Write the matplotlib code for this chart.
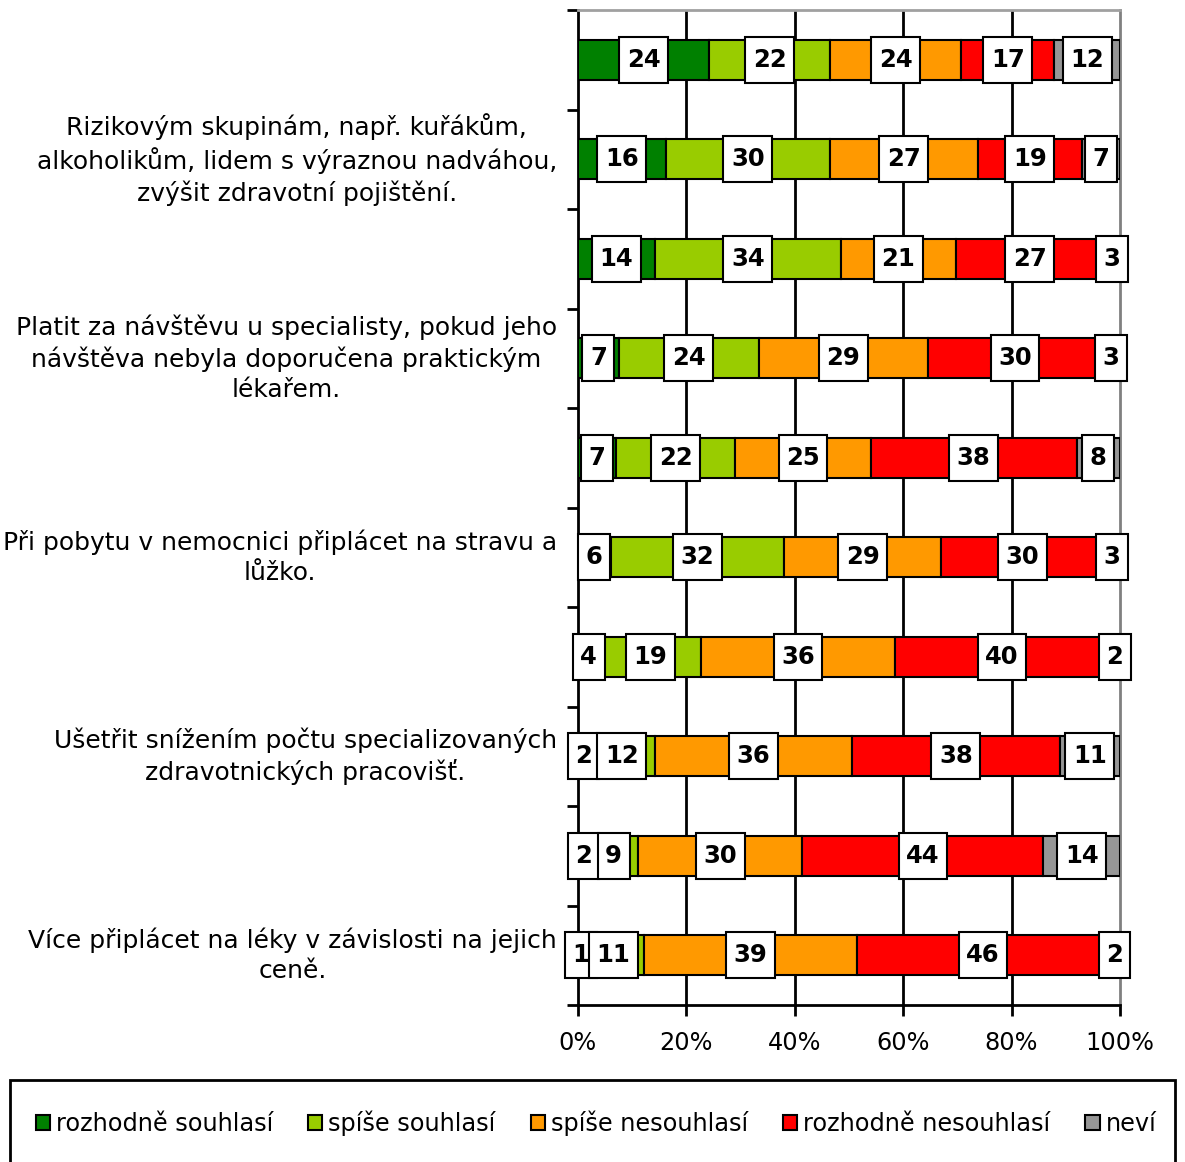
import matplotlib
matplotlib.use("Agg")
import matplotlib.pyplot as plt
import matplotlib.transforms as mtransforms
import numpy as np
from matplotlib.patches import Rectangle, Patch
from matplotlib.path import Path

plt.rcParams['font.family'] = ['DejaVu Sans']

# Statements (only every second one carries a printed label)
categories = [
    "",
    "Rizikovým skupinám, např. kuřákům,\nalkoholikům, lidem s výraznou nadváhou,\nzvýšit zdravotní pojištění.",
    "",
    "Platit za návštěvu u specialisty, pokud jeho\nnávštěva nebyla doporučena praktickým\nlékařem.",
    "",
    "Při pobytu v nemocnici připlácet na stravu a\nlůžko.",
    "",
    "Ušetřit snížením počtu specializovaných\nzdravotnických pracovišť.",
    "",
    "Více připlácet na léky v závislosti na jejich\nceně.",
]

series_names = ["rozhodně souhlasí", "spíše souhlasí", "spíše nesouhlasí",
                "rozhodně nesouhlasí", "neví"]

rozhodne_souhlasi = [24, 16, 14, 7, 7, 6, 4, 2, 2, 1]
spise_souhlasi = [22, 30, 34, 24, 22, 32, 19, 12, 9, 11]
spise_nesouhlasi = [24, 27, 21, 29, 25, 29, 36, 36, 30, 39]
rozhodne_nesouhlasi = [17, 19, 27, 30, 38, 30, 40, 38, 44, 46]
nevi = [12, 7, 3, 3, 8, 3, 2, 11, 14, 2]

colors = ["#008000", "#99CC00", "#FF9900", "#FF0000", "#969696"]

data = np.array([rozhodne_souhlasi, spise_souhlasi, spise_nesouhlasi,
                 rozhodne_nesouhlasi, nevi], dtype=float)
shares = data / data.sum(axis=0) * 100.0


def value_box(x0, y0, width, height, mutation_size):
    """Rectangle with a narrow side padding and a fixed, taller height."""
    padx = 0.31 * mutation_size
    half_h = 0.95 * mutation_size
    cy = y0 + height / 2
    verts = [(x0 - padx, cy - half_h), (x0 + width + padx, cy - half_h),
             (x0 + width + padx, cy + half_h), (x0 - padx, cy + half_h),
             (x0 - padx, cy - half_h)]
    return Path(verts, closed=True)


fig = plt.figure(figsize=(11.85, 11.62), dpi=100)
ax = fig.add_axes([578 / 1185, 1 - 1005 / 1162, (1120 - 578) / 1185, (1005 - 10) / 1162])

FS = 17.3
FS_CAT = 18
FS_VAL = 17.5
y = np.arange(len(categories))
left = np.zeros(len(categories))
for k in range(len(series_names)):
    ax.barh(y, shares[k], left=left, height=0.4, color=colors[k],
            edgecolor="black", linewidth=1.5, zorder=3, label=series_names[k])
    for i in range(len(categories)):
        ax.text(left[i] + shares[k][i] / 2, y[i], f"{int(data[k][i])}",
                ha="center", va="center", fontsize=FS_VAL, fontweight="bold",
                zorder=5,
                bbox=dict(boxstyle=value_box, facecolor="white",
                          edgecolor="black", linewidth=1.5))
    left += shares[k]

ax.set_xlim(0, 100)
ax.set_ylim(len(categories) - 0.5, -0.5)

# vertical gridlines
for gx in [20, 40, 60, 80]:
    ax.axvline(gx, color="black", linewidth=2, zorder=1)
ax.set_axisbelow(True)

ax.set_xticks([0, 20, 40, 60, 80, 100])
ax.set_xticklabels(["0%", "20%", "40%", "60%", "80%", "100%"], fontsize=FS)
ax.tick_params(axis="x", direction="out", length=8, width=2, pad=11)

# category boundaries as ticks; statement labels placed beside each row
ax.set_yticks(np.arange(-0.5, len(categories) + 0.5, 1.0))
ax.set_yticklabels([])
ax.tick_params(axis="y", which="major", direction="out", length=8, width=2)

label_shift = mtransforms.ScaledTranslation(-21 / 100, 0, fig.dpi_scale_trans)
label_trans = ax.get_yaxis_transform() + label_shift
for i, cat in enumerate(categories):
    if cat:
        ax.text(0, y[i], cat, transform=label_trans, ha="right", va="center",
                multialignment="center", linespacing=1.32, fontsize=FS_CAT)

ax.spines["left"].set_linewidth(2)
ax.spines["bottom"].set_linewidth(2)
ax.spines["top"].set_color("#A0A0A0")
ax.spines["top"].set_linewidth(2)
ax.spines["right"].set_color("#808080")
ax.spines["right"].set_linewidth(2)

# legend frame running off the bottom edge
fig.patches.append(Rectangle((10 / 1185, -0.05), (1175 - 10) / 1185, 0.05 + 1 - 1080 / 1162,
                             transform=fig.transFigure, facecolor="white",
                             edgecolor="black", linewidth=2, zorder=0))
handles = [Patch(facecolor=c, edgecolor="black", linewidth=1.5) for c in colors]
fig.legend(handles, series_names, loc="center", bbox_to_anchor=(596 / 1185, 1 - 1123 / 1162),
           ncol=5, frameon=False, fontsize=FS, handlelength=0.6, handleheight=0.6,
           handletextpad=0.25, columnspacing=1.45, borderaxespad=0)

fig.savefig("out.png", dpi=100)
